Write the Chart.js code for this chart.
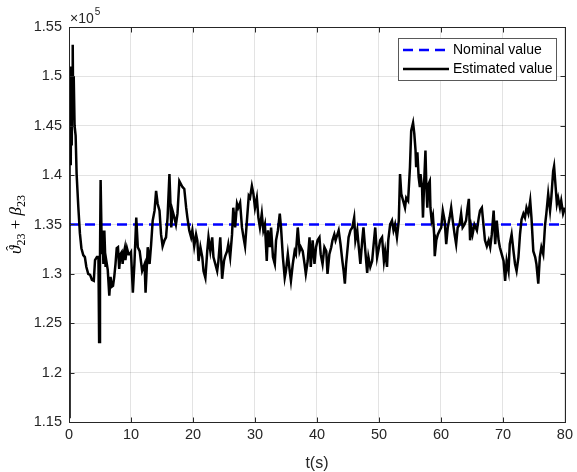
<!DOCTYPE html>
<html><head><meta charset="utf-8">
<script src="https://cdn.jsdelivr.net/npm/chart.js@4.4.1/dist/chart.umd.min.js"></script>
<style>html,body{margin:0;padding:0;background:#fff}#wrap{width:577px;height:472px}</style>
</head><body><div id="wrap"><canvas id="c" width="577" height="472"></canvas></div>
<script>
// ---- data (values in units of 10^5) ----
const estimatedSeries = [
[0,1.155],[0.05,1.50],[0.12,1.42],[0.2,1.51],[0.28,1.41],[0.36,1.50],[0.44,1.43],[0.52,1.49],[0.6,1.532],[0.68,1.46],[0.76,1.50],[0.9,1.45],[1.07,1.44],[1.23,1.401],[1.5,1.368],[1.76,1.341],[2.0,1.326],[2.3,1.319],[2.56,1.317],[2.8,1.307],[3.1,1.300],[3.4,1.299],[3.7,1.294],[4.0,1.293],[4.2,1.314],[4.5,1.317],[4.75,1.317],[4.86,1.231],[5.0,1.317],[5.1,1.395],[5.3,1.320],[5.4,1.344],[5.55,1.310],[5.7,1.344],[5.9,1.307],[6.0,1.314],[6.25,1.304],[6.5,1.278],[6.7,1.297],[6.9,1.287],[7.1,1.288],[7.3,1.297],[7.5,1.310],[7.7,1.326],[7.9,1.327],[8.1,1.305],[8.3,1.320],[8.5,1.322],[8.65,1.310],[8.8,1.320],[9.0,1.326],[9.1,1.314],[9.35,1.326],[9.6,1.320],[9.8,1.320],[10.0,1.322],[10.3,1.281],[10.55,1.310],[10.85,1.357],[11.1,1.327],[11.4,1.323],[11.8,1.303],[12.2,1.310],[12.35,1.281],[12.7,1.327],[13.0,1.310],[13.25,1.330],[13.5,1.354],[13.8,1.364],[14.05,1.384],[14.3,1.371],[14.6,1.364],[14.85,1.340],[15.1,1.328],[15.4,1.334],[15.65,1.337],[15.9,1.357],[16.2,1.401],[16.5,1.347],[16.7,1.364],[17.0,1.357],[17.25,1.350],[17.5,1.361],[17.8,1.394],[18.05,1.391],[18.3,1.388],[18.6,1.386],[18.9,1.367],[19.1,1.357],[19.4,1.344],[19.7,1.337],[19.9,1.344],[20.2,1.328],[20.5,1.340],[20.7,1.334],[20.9,1.313],[21.2,1.327],[21.5,1.317],[21.7,1.303],[22.0,1.296],[22.3,1.323],[22.5,1.337],[22.8,1.323],[23.1,1.337],[23.3,1.317],[23.6,1.310],[23.9,1.303],[24.1,1.313],[24.4,1.337],[24.7,1.295],[25.0,1.313],[25.2,1.318],[25.5,1.323],[25.7,1.330],[26.0,1.317],[26.3,1.340],[26.5,1.367],[26.8,1.347],[27.1,1.371],[27.3,1.367],[27.6,1.372],[27.9,1.347],[28.15,1.337],[28.4,1.328],[28.7,1.354],[29.0,1.379],[29.2,1.377],[29.5,1.389],[29.75,1.381],[30.0,1.367],[30.3,1.377],[30.55,1.357],[30.8,1.347],[31.1,1.361],[31.35,1.344],[31.6,1.350],[31.9,1.313],[32.1,1.344],[32.4,1.327],[32.6,1.347],[32.9,1.317],[33.2,1.310],[33.4,1.334],[33.7,1.344],[34.0,1.361],[34.2,1.347],[34.5,1.317],[34.8,1.296],[35.0,1.303],[35.3,1.320],[35.6,1.303],[35.8,1.293],[36.1,1.310],[36.4,1.323],[36.6,1.320],[36.9,1.347],[37.2,1.323],[37.4,1.327],[37.7,1.323],[38.0,1.310],[38.2,1.300],[38.5,1.313],[38.8,1.337],[39.0,1.307],[39.3,1.334],[39.6,1.310],[39.85,1.327],[40.1,1.334],[40.4,1.337],[40.6,1.320],[40.9,1.310],[41.2,1.327],[41.5,1.323],[41.7,1.300],[42.0,1.320],[42.3,1.327],[42.5,1.334],[42.8,1.340],[43.0,1.334],[43.3,1.340],[43.5,1.344],[43.8,1.330],[44.1,1.313],[44.3,1.303],[44.5,1.290],[44.7,1.310],[45.0,1.330],[45.1,1.337],[45.4,1.344],[45.7,1.347],[46.0,1.357],[46.2,1.334],[46.5,1.344],[46.7,1.330],[47.0,1.310],[47.3,1.334],[47.5,1.347],[47.8,1.323],[48.1,1.301],[48.3,1.317],[48.6,1.307],[48.9,1.313],[49.1,1.327],[49.4,1.347],[49.7,1.317],[50.0,1.327],[50.2,1.334],[50.5,1.337],[50.8,1.313],[51.0,1.323],[51.3,1.307],[51.5,1.334],[51.8,1.350],[52.1,1.354],[52.35,1.344],[52.6,1.350],[52.9,1.337],[53.2,1.354],[53.4,1.401],[53.6,1.381],[53.9,1.374],[54.2,1.367],[54.4,1.377],[54.7,1.374],[55.0,1.408],[55.2,1.445],[55.5,1.453],[55.7,1.442],[55.9,1.425],[56.0,1.408],[56.2,1.423],[56.4,1.398],[56.6,1.388],[56.7,1.401],[56.95,1.388],[57.1,1.357],[57.3,1.394],[57.5,1.425],[57.65,1.388],[57.8,1.367],[58.0,1.391],[58.2,1.394],[58.3,1.367],[58.5,1.354],[58.7,1.359],[58.9,1.340],[59.0,1.318],[59.25,1.334],[59.5,1.340],[59.8,1.344],[60.05,1.347],[60.3,1.364],[60.6,1.354],[60.85,1.330],[61.1,1.347],[61.4,1.357],[61.65,1.367],[61.9,1.354],[62.2,1.340],[62.45,1.330],[62.7,1.347],[63.0,1.350],[63.25,1.361],[63.5,1.347],[63.8,1.350],[64.05,1.354],[64.3,1.367],[64.5,1.376],[64.7,1.334],[64.9,1.347],[65.1,1.340],[65.4,1.350],[65.8,1.344],[66.1,1.357],[66.3,1.364],[66.6,1.367],[66.9,1.347],[67.1,1.334],[67.4,1.328],[67.7,1.334],[67.95,1.327],[68.2,1.340],[68.5,1.364],[68.75,1.330],[69.0,1.354],[69.3,1.334],[69.5,1.327],[69.8,1.320],[70.1,1.313],[70.35,1.293],[70.6,1.313],[70.9,1.303],[71.1,1.330],[71.4,1.340],[71.7,1.323],[71.95,1.310],[72.2,1.303],[72.5,1.317],[72.75,1.340],[73.0,1.355],[73.3,1.361],[73.55,1.357],[73.8,1.367],[74.1,1.361],[74.4,1.374],[74.6,1.357],[74.9,1.323],[75.2,1.317],[75.4,1.310],[75.7,1.290],[75.95,1.317],[76.2,1.327],[76.5,1.320],[76.8,1.350],[77.0,1.361],[77.3,1.381],[77.6,1.364],[77.8,1.377],[78.1,1.404],[78.25,1.409],[78.5,1.388],[78.7,1.371],[78.9,1.377],[79.2,1.367],[79.4,1.374],[79.7,1.361],[80.0,1.367]
];
const nominalValue = 1.35;
const nominalSeries = [[0, nominalValue], [80, nominalValue]];
const xTicks = [0, 10, 20, 30, 40, 50, 60, 70, 80];
const yTicks = [1.15, 1.2, 1.25, 1.3, 1.35, 1.4, 1.45, 1.5, 1.55];
const xTitle = 't(s)';
const legendLabels = ['Nominal value', 'Estimated value'];
const exponentText = ['\u00d710', '5'];

// ---- chart ----
const SANS = "'Liberation Sans', Arial, Helvetica, sans-serif";
const SERIF = "'Liberation Serif','DejaVu Serif', 'Times New Roman', serif";
const AXC = '#262626';

const decor = {
  id: 'decor',
  afterDraw(chart) {
    const { ctx, chartArea: a, scales: { x, y } } = chart;
    ctx.save();
    ctx.strokeStyle = AXC; ctx.lineWidth = 1;
    const L = Math.round(a.left) + 0.5, T = Math.round(a.top) + 0.5;
    const R = Math.round(a.right) + 0.5, B = Math.round(a.bottom) + 0.5;
    ctx.strokeRect(L, T, R - L, B - T);
    ctx.beginPath();
    xTicks.forEach(v => { const p = Math.round(x.getPixelForValue(v)) + 0.5;
      ctx.moveTo(p, B); ctx.lineTo(p, B - 5); ctx.moveTo(p, T); ctx.lineTo(p, T + 5); });
    yTicks.forEach(v => { const p = Math.round(y.getPixelForValue(v)) + 0.5;
      ctx.moveTo(L, p); ctx.lineTo(L + 5, p); ctx.moveTo(R, p); ctx.lineTo(R - 5, p); });
    ctx.stroke();

    ctx.fillStyle = AXC;
    ctx.textBaseline = 'alphabetic'; ctx.textAlign = 'left';
    ctx.font = '14px ' + SANS;
    ctx.fillText(exponentText[0], 70, 23);
    const w0 = ctx.measureText(exponentText[0]).width;
    ctx.font = '10px ' + SANS;
    ctx.fillText(exponentText[1], 70 + w0 + 1, 15);

    ctx.font = '16px ' + SANS; ctx.textAlign = 'center';
    ctx.fillText(xTitle, (a.left + a.right) / 2, 468);

    ctx.save();
    ctx.translate(21, (a.top + a.bottom) / 2);
    ctx.rotate(-Math.PI / 2);
    ctx.fillStyle = '#000';
    const parts = [
      { t: '\u03d1', f: 'italic 17px ' + SERIF, dy: 0, hat: true },
      { t: '23', f: '12px ' + SERIF, dy: 4 },
      { t: ' + ', f: '17px ' + SERIF, dy: 0 },
      { t: '\u03b2', f: 'italic 17px ' + SERIF, dy: 0 },
      { t: '23', f: '12px ' + SERIF, dy: 4 }
    ];
    let tot = 0;
    parts.forEach(p => { ctx.font = p.f; p.w = ctx.measureText(p.t).width; tot += p.w; });
    let cx = -tot / 2;
    ctx.textAlign = 'left';
    parts.forEach(p => {
      ctx.font = p.f;
      ctx.fillText(p.t, cx, p.dy);
      if (p.hat) { ctx.font = '15px ' + SERIF; ctx.textAlign = 'center';
        ctx.fillText('\u02c6', cx + p.w / 2 + 1.5, -5); ctx.textAlign = 'left'; }
      cx += p.w;
    });
    ctx.restore();

    const lx = 398.5, ly = 38.5, lw = 158, lh = 42;
    ctx.fillStyle = '#fff'; ctx.fillRect(lx, ly, lw, lh);
    ctx.strokeStyle = '#595959'; ctx.lineWidth = 1; ctx.strokeRect(lx, ly, lw, lh);
    ctx.lineWidth = 2.4;
    ctx.strokeStyle = '#0000ff'; ctx.setLineDash([10, 6]);
    ctx.beginPath(); ctx.moveTo(403, 50); ctx.lineTo(449, 50); ctx.stroke();
    ctx.setLineDash([]);
    ctx.strokeStyle = '#000';
    ctx.beginPath(); ctx.moveTo(403, 69); ctx.lineTo(449, 69); ctx.stroke();
    ctx.fillStyle = '#000'; ctx.font = '14px ' + SANS;
    ctx.textAlign = 'left'; ctx.textBaseline = 'middle';
    ctx.fillText(legendLabels[0], 453, 50);
    ctx.fillText(legendLabels[1], 453, 69);
    ctx.restore();
  }
};

new Chart(document.getElementById('c'), {
  type: 'line',
  data: {
    datasets: [
      { label: legendLabels[1], data: estimatedSeries.map(p => ({ x: p[0], y: p[1] })),
        borderColor: '#000', borderWidth: 2.5, pointRadius: 0, tension: 0, fill: false, order: 0 },
      { label: legendLabels[0], data: nominalSeries.map(p => ({ x: p[0], y: p[1] })),
        borderColor: '#0000ff', borderWidth: 2.4, borderDash: [10, 6], pointRadius: 0, fill: false, order: 1 }
    ]
  },
  options: {
    responsive: false, animation: false, devicePixelRatio: 1,
    layout: { padding: { top: 27, right: 9, left: 0, bottom: 0 } },
    plugins: { legend: { display: false }, tooltip: { enabled: false } },
    scales: {
      x: {
        type: 'linear', min: 0, max: 80,
        afterBuildTicks: s => { s.ticks = xTicks.map(v => ({ value: v })); },
        afterFit: s => { s.height = 50; },
        ticks: { color: AXC, font: { family: SANS, size: 14.5 }, padding: 4, maxRotation: 0,
          callback: v => String(v) },
        grid: { color: 'rgba(38,38,38,0.13)', drawTicks: false, lineWidth: 1 },
        border: { display: false }
      },
      y: {
        type: 'linear', min: 1.15, max: 1.55,
        afterBuildTicks: s => { s.ticks = yTicks.map(v => ({ value: v })); },
        afterFit: s => { s.width = 69; },
        ticks: { color: AXC, font: { family: SANS, size: 14.5 }, padding: 7,
          callback: v => String(+v.toFixed(2)) },
        grid: { color: 'rgba(38,38,38,0.13)', drawTicks: false, lineWidth: 1 },
        border: { display: false }
      }
    }
  },
  plugins: [decor]
});
</script>
</body></html>
